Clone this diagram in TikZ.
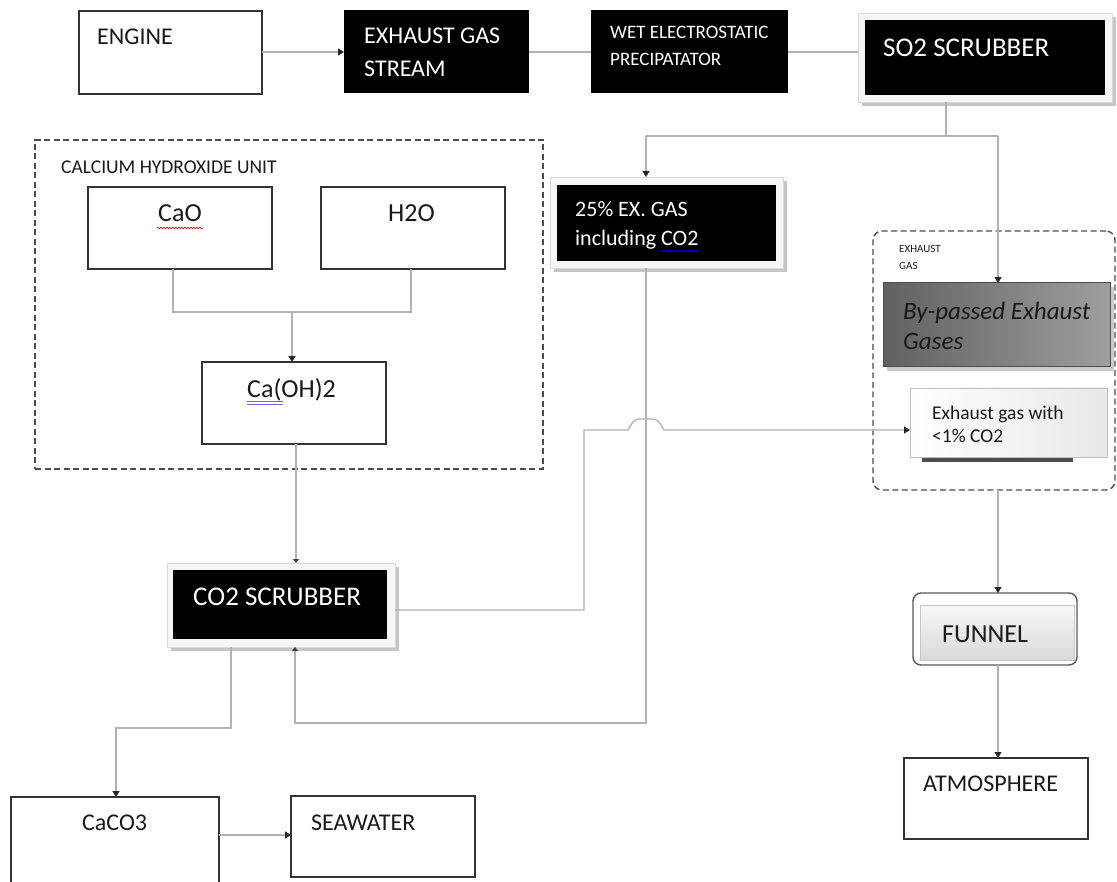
\documentclass[tikz,border=0pt]{standalone}
\usepackage{fontspec}
\setmainfont{Carlito}
\usetikzlibrary{arrows.meta,fit,decorations.pathmorphing,shadows}
\newcommand\fsz[1]{\fontsize{#1pt}{#1pt}\selectfont}
\begin{document}
\begin{tikzpicture}[x=1pt,y=-1pt,
  wbox/.style={draw=black!80, line width=1.2pt, fill=white, inner sep=0pt, outer sep=0pt},
  bbox/.style={draw=none, fill=black, inner sep=0pt, outer sep=0pt},
  framebox/.style={draw=gray!30, line width=0.6pt, fill=gray!7, inner sep=0pt, outer sep=0pt,
     drop shadow={shadow xshift=4pt, shadow yshift=-4pt, fill=gray!45, opacity=1}},
  dashbox/.style={draw=black!70, line width=1.4pt, dash pattern=on 6pt off 3.5pt, inner sep=0pt, outer sep=0pt},
  lbl/.style={inner sep=0pt, anchor=base west, text=black!90},
  wlbl/.style={inner sep=0pt, anchor=base west, text=white},
  conn/.style={draw=gray!60, line width=1.3pt},
  arr/.style={conn, -{Triangle[length=6pt,width=7pt,color=black!85]}},
  sarr/.style={conn, -{Triangle[length=4pt,width=6pt,color=black!75]}},
]
\fill[white] (0,0) rectangle (1117,882);
\useasboundingbox (0,0) rectangle (1117,882);

% ---------- top row ----------
\node[wbox, fit={(79,11)(262,94)}] (engine) {};
\node[lbl, font=\fsz{24}] (engineT) at (97,45) {ENGINE};

\node[bbox, fit={(344,10)(529,93)}] (exh) {};
\node[wlbl, font=\fsz{24}] (exhT1) at (364,44) {EXHAUST GAS};
\node[wlbl, font=\fsz{24}] (exhT2) at (364,77) {STREAM};

\node[bbox, fit={(591,10)(788,93)}] (wet) {};
\node[wlbl, font=\fsz{19}] (wetT1) at (610,39) {WET ELECTROSTATIC};
\node[wlbl, font=\fsz{19}] (wetT2) at (610,66) {PRECIPATATOR};

\node[framebox, fit={(858,13)(1112,102)}] (so2f) {};
\node[bbox, fit={(865,20)(1105,95)}] (so2) {};
\node[wlbl, font=\fsz{27}] (so2T) at (883,57) {SO2 SCRUBBER};

% ---------- calcium hydroxide unit ----------
\node[dashbox, fit={(35,140)(543,469)}] (cunit) {};
\node[lbl, font=\fsz{19.5}] (cunitT) at (61,174) {CALCIUM HYDROXIDE UNIT};
\node[wbox, fit={(88,187)(272,269)}] (cao) {};
\node[lbl, font=\fsz{26}] (caoT) at (158,222) {CaO};
\node[wbox, fit={(321,187)(505,269)}] (h2o) {};
\node[lbl, font=\fsz{26}] (h2oT) at (388,222) {H2O};
\node[wbox, fit={(202,362)(386,444)}] (caoh) {};
\node[lbl, font=\fsz{26}] (caohT) at (247,398) {Ca(OH)2};
\draw[red!85!black, line width=0.6pt, decorate, decoration={snake, amplitude=0.9pt, segment length=3pt}] (157,228) -- (203,228);
\draw[blue!60, line width=0.7pt] (247,401) -- (283,401) (247,404) -- (283,404);

% ---------- 25% box ----------
\node[framebox, fit={(550,177)(783,268)}] (pctf) {};
\node[bbox, fit={(557,185)(776,261)}] (pct) {};
\node[wlbl, font=\fsz{22}] (pctT1) at (575,217) {25\% EX. GAS};
\node[wlbl, font=\fsz{22}] (pctT2) at (575,246) {including CO2};
\draw[blue!65!black, line width=2pt] (661,251) -- (698,251);

% ---------- right dashed group ----------
\node[dashbox, rounded corners=9pt, fit={(873,231)(1115,490)}] (rdash) {};
\node[lbl, font=\fsz{11}] (rdT1) at (899,253) {EXHAUST};
\node[lbl, font=\fsz{11}] (rdT2) at (899,270) {GAS};
\node[draw=black!70, line width=1pt, inner sep=0pt, outer sep=0pt,
      left color=black!62, middle color=black!16, right color=black!38,
      drop shadow={shadow xshift=4pt, shadow yshift=-4pt, fill=gray!40, opacity=1},
      fit={(883,283)(1110,367)}] (byp) {};
\node[lbl, font=\fsz{25}\itshape] (bypT1) at (903,320) {By-passed Exhaust};
\node[lbl, font=\fsz{25}\itshape] (bypT2) at (903,350) {Gases};
\fill[black!70] (922,452) rectangle (1073,462);
\node[draw=gray!50, line width=0.8pt, inner sep=0pt, outer sep=0pt,
      left color=white, right color=gray!18, fit={(910,388)(1107,457)}] (ex1) {};
\node[lbl, font=\fsz{19.5}] (ex1T1) at (932,420) {Exhaust gas with};
\node[lbl, font=\fsz{19.5}] (ex1T2) at (932,443) {<1\% CO2};

% ---------- funnel & atmosphere ----------
\node[draw=black!65, line width=1.4pt, fill=white, rounded corners=8pt, inner sep=0pt, outer sep=0pt,
      fit={(913,593)(1077,665)}] (funnel) {};
\node[draw=gray!45, line width=0.8pt, top color=gray!6, bottom color=gray!30, inner sep=0pt, outer sep=0pt,
      fit={(920,605)(1074,660)}] (funnelIn) {};
\node[lbl, font=\fsz{26}] (funnelT) at (942,642) {FUNNEL};
\node[wbox, fit={(904,758)(1088,839)}] (atm) {};
\node[lbl, font=\fsz{24}] (atmT) at (923,791) {ATMOSPHERE};

% ---------- CO2 scrubber ----------
\node[framebox, fit={(167,563)(395,647)}] (co2f) {};
\node[bbox, fit={(173,570)(387,639)}] (co2) {};
\node[wlbl, font=\fsz{27}] (co2T) at (193,605) {CO2 SCRUBBER};

% ---------- bottom ----------
\node[draw=none, inner sep=0pt, outer sep=0pt, fit={(11,797)(219,886)}] (caco) {};
\draw[black!80, line width=1.2pt] (caco.south west) -- (caco.north west) -- (caco.north east) -- (caco.south east);
\node[lbl, font=\fsz{24}] (cacoT) at (82,830) {CaCO3};
\node[wbox, fit={(291,796)(475,877)}] (sea) {};
\node[lbl, font=\fsz{24}] (seaT) at (311,830) {SEAWATER};

% ---------- connectors ----------
\coordinate (yTop) at (0,52);
\draw[arr] (engine.east |- yTop) -- (exh.west |- yTop);
\draw[conn] (exh.east |- yTop) -- (wet.west |- yTop);
\draw[conn] (wet.east |- yTop) -- (so2f.west |- yTop);

\coordinate (jS) at (946,136);
\coordinate (jL) at (646,136);
\coordinate (jR) at (998,136);
\draw[conn] (so2f.south -| jS) -- (jS);
\draw[conn] (jL) -- (jR);
\draw[arr] (jL) -- (pctf.north -| jL);
\draw[arr] (jR) -- (byp.north -| jR);

\coordinate (mL) at (173,312);
\coordinate (mR) at (411,312);
\coordinate (mM) at (292,312);
\draw[conn] (cao.south -| mL) -- (mL) -- (mR) -- (h2o.south -| mR);
\draw[arr] (mM) -- (caoh.north -| mM);

\coordinate (cV) at (296,0);
\draw[sarr] (caoh.south -| cV) -- (co2f.north -| cV);

\coordinate (bL) at (646,723);
\coordinate (bR) at (295,723);
\draw[sarr] (pctf.south -| bL) -- (bL) -- (bR) -- (co2f.south -| bR);

\coordinate (cR) at (584,610);
\coordinate (cH) at (584,430);
\draw[arr] (co2f.east |- cR) -- (cR) -- (cH) -- (628,430) .. controls (634,419) and (636,419) .. (641,419) -- (651,419) .. controls (656,419) and (658,419) .. (664,430) -- (ex1.west |- cH);

\coordinate (dA) at (231,728);
\coordinate (dB) at (116,728);
\draw[arr] (co2f.south -| dA) -- (dA) -- (dB) -- (caco.north -| dB);

\coordinate (yS) at (0,835);
\draw[arr] (caco.east |- yS) -- (sea.west |- yS);

\draw[arr] (rdash.south -| jR) -- (funnel.north -| jR);
\draw[arr] (funnel.south -| jR) -- (atm.north -| jR);
\end{tikzpicture}
\end{document}
